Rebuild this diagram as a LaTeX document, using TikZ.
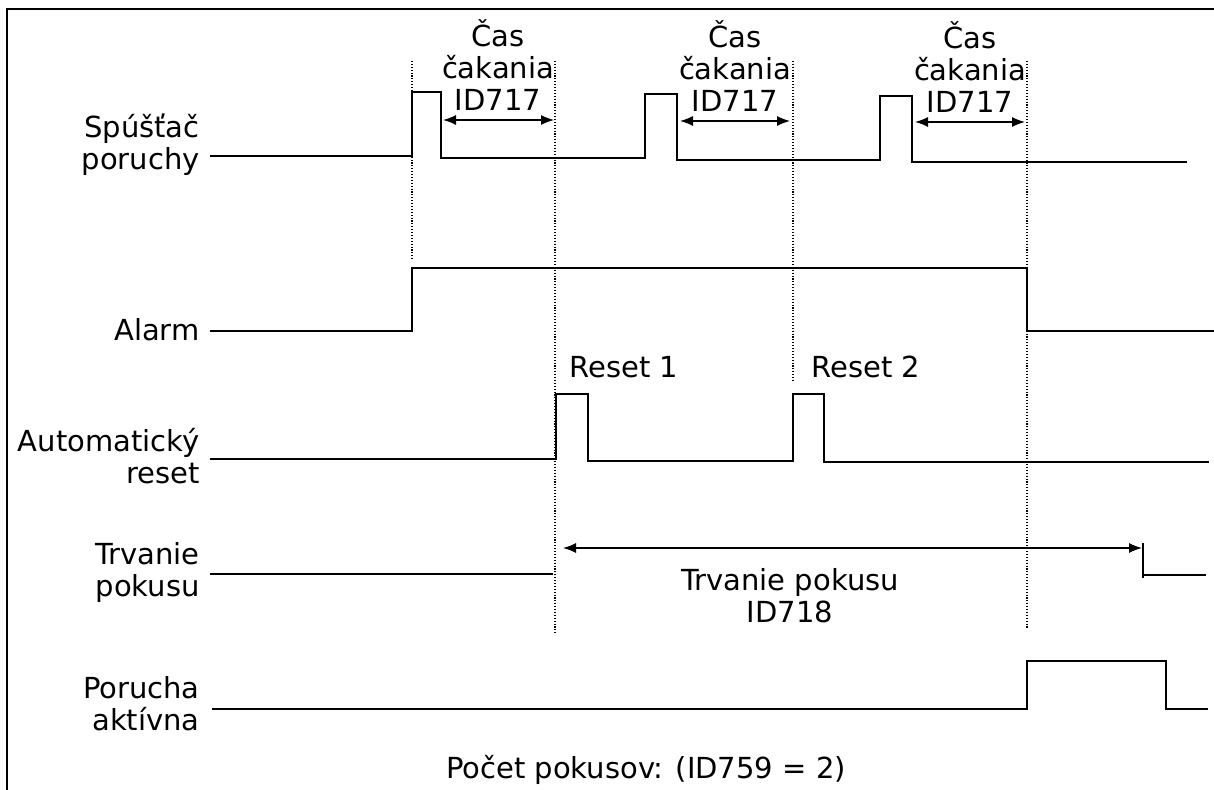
\documentclass[tikz,border=0pt]{standalone}
\usepackage{fontspec}
\setmainfont{DejaVu Sans}
\usetikzlibrary{arrows.meta}

\begin{document}
\begin{tikzpicture}[
        x=0.5pt, y=-0.5pt,
        sig/.style={line width=0.75pt, black},
        guide/.style={line width=0.55pt, dash pattern=on 0.55pt off 0.9pt},
        span/.style={{Latex[length=6.5pt,width=5pt]}-{Latex[length=6.5pt,width=5pt]}, line width=0.7pt},
        lbl/.style={anchor=east, align=right, inner sep=0pt, font=\fontsize{14.5}{16}\selectfont},
        txt/.style={align=center, inner sep=0pt, font=\fontsize{14.5}{16}\selectfont}
        ]
        \useasboundingbox (0,0) rectangle (1214,790);
        % frame (top and left only)
        \draw[sig] (1214,9) -- (7,9) -- (7,790);

        % signal names
        \node[lbl] (trig)  at (200,145) {Spúšťač\\poruchy};
        \node[lbl] (alarm) at (200,330) {Alarm};
        \node[lbl] (auto)  at (200,456) {Automatický\\reset};
        \node[lbl] (dur)   at (200,572) {Trvanie\\pokusu};
        \node[lbl] (fault) at (200,704) {Porucha\\aktívna};

        % dotted guides
        \coordinate (g1) at (412,61);
        \coordinate (g2) at (555,61);
        \coordinate (g3) at (793,61);
        \coordinate (g4) at (1027,61);
        \draw[guide] (g1) -- (412,259);
        \draw[guide] (g2) -- (555,633);
        \draw[guide] (g3) -- (793,382);
        \draw[guide] (g4) -- (1027,628);

        % waveforms
        \draw[sig] (210,156) -- (412,156) -- (412,92) -- (441,92) -- (441,158) -- (645,158) -- (645,94) -- (677,94) -- (677,160)
              -- (880,160) -- (880,96) -- (912,96) -- (912,162) -- (1187,162);
        \draw[sig] (210,331) -- (412,331) -- (412,268) -- (1027,268) -- (1027,331) -- (1214,331);
        \draw[sig] (210,459) -- (556,459) -- (556,394) -- (588,394) -- (588,461) -- (793,461) -- (793,394) -- (824,394) -- (824,462)
              -- (1209,462);
        \draw[sig] (210,574) -- (553,574);
        \draw[sig] (1143,543) -- (1143,578);
        \draw[sig] (1143,575) -- (1206,575);
        \draw[sig] (212,709) -- (1027,709) -- (1027,661) -- (1166,661) -- (1166,709) -- (1208,709);

        % waiting times
        \node[txt] (wait1) at (498,65) {Čas\\čakania\\ID717};
        \node[txt] (wait2) at (735,66) {Čas\\čakania\\ID717};
        \node[txt] (wait3) at (970,67) {Čas\\čakania\\ID717};
        \coordinate (w1a) at (443,120);
        \coordinate (w1b) at (554,120);
        \coordinate (w2a) at (680,121);
        \coordinate (w2b) at (790,121);
        \coordinate (w3a) at (915,122);
        \coordinate (w3b) at (1025,122);
        \draw[span] (w1a) -- (w1b);
        \draw[span] (w2a) -- (w2b);
        \draw[span] (w3a) -- (w3b);

        % resets
        \node[txt, anchor=west] (rst1) at (569,367) {Reset 1};
        \node[txt, anchor=west] (rst2) at (811,367) {Reset 2};

        % trial duration
        \coordinate (d1) at (563,548);
        \coordinate (d2) at (1142,548);
        \draw[span] (d1) -- (d2);
        \node[txt] (durtxt) at (790,596) {Trvanie pokusu\\ID718};

        \node[txt] (count) at (646,770) {Počet pokusov: (ID759 = 2)};
    \end{tikzpicture}
\end{document}
